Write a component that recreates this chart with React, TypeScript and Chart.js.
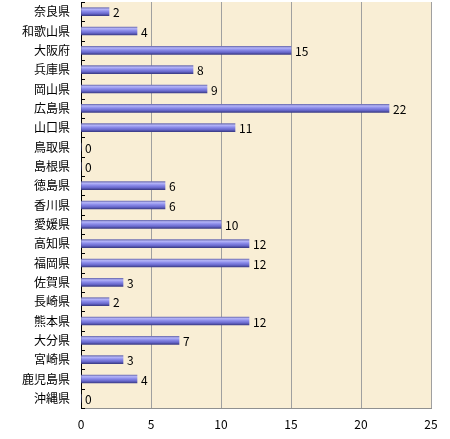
import React, { useEffect, useRef } from "react";
import { Chart, registerables } from "chart.js";

Chart.register(...registerables);

const categories = ["奈良県", "和歌山県", "大阪府", "兵庫県", "岡山県", "広島県", "山口県", "鳥取県", "島根県", "徳島県", "香川県", "愛媛県", "高知県", "福岡県", "佐賀県", "長崎県", "熊本県", "大分県", "宮崎県", "鹿児島県", "沖縄県"];
const values = [2, 4, 15, 8, 9, 22, 11, 0, 0, 6, 6, 10, 12, 12, 3, 2, 12, 7, 3, 4, 0];
const xTicks = [0, 5, 10, 15, 20, 25];

const FONT = "'Noto Sans CJK JP', 'DejaVu Sans', sans-serif";
const BAR_H = 8;

const bgPlugin = {
  id: "bgPlugin",
  beforeDraw(chart: any) {
    const { ctx, chartArea: a } = chart;
    ctx.save();
    ctx.fillStyle = "#f9eed5";
    ctx.fillRect(a.left, a.top, a.right - a.left, a.bottom - a.top);
    ctx.restore();
  },
};

const barFill = (c: any) => {
  if (c.type !== "data" || !c.chart.scales || !c.chart.scales.y) return "#8080e0";
  const y = c.chart.scales.y.getPixelForValue(c.dataIndex);
  if (!Number.isFinite(y)) return "#8080e0";
  const h = BAR_H / 2;
  const g = c.chart.ctx.createLinearGradient(0, y - h, 0, y + h);
  g.addColorStop(0, "#7070b4");
  g.addColorStop(0.2, "#b4b4f8");
  g.addColorStop(0.45, "#8c8cea");
  g.addColorStop(0.75, "#6868cc");
  g.addColorStop(1, "#3c3c88");
  return g;
};

const extras = {
  id: "extras",
  afterDatasetsDraw(chart: any) {
    const { ctx, chartArea: a } = chart;
    const meta = chart.getDatasetMeta(0);
    const ys = chart.scales.y;
    ctx.save();
    ctx.strokeStyle = "#000";
    ctx.lineWidth = 1;
    const n = categories.length;
    const step = (a.bottom - a.top) / n;
    for (let i = 0; i <= n; i++) {
      const yy = Math.round(i < n ? ys.getPixelForValue(i) - step / 2 : ys.getPixelForValue(n - 1) + step / 2) + 0.5;
      ctx.beginPath();
      ctx.moveTo(a.left, yy);
      ctx.lineTo(a.left + 4, yy);
      ctx.stroke();
    }
    ctx.fillStyle = "#000";
    ctx.font = `12px ${FONT}`;
    ctx.textAlign = "left";
    ctx.textBaseline = "middle";
    meta.data.forEach((bar: any, i: number) => {
      ctx.fillText(String(values[i]), bar.x + 4, bar.y + 1);
    });
    ctx.restore();
  },
};

export default function App() {
  const ref = useRef<HTMLCanvasElement>(null);
  useEffect(() => {
    document.body.style.margin = "0";
    const chart = new Chart(ref.current!, {
      type: "bar",
      data: {
        labels: categories,
        datasets: [
          {
            data: values,
            backgroundColor: barFill,
            borderWidth: 0,
            barThickness: BAR_H,
          },
        ],
      },
      options: {
        indexAxis: "y",
        animation: false,
        responsive: false,
        maintainAspectRatio: false,
        layout: { padding: { left: 0, top: 2, right: 19, bottom: 0 } },
        plugins: { legend: { display: false }, tooltip: { enabled: false } },
        scales: {
          x: {
            min: 0,
            max: 25,
            afterBuildTicks: (s: any) => {
              s.ticks = xTicks.map((v) => ({ value: v }));
            },
            afterFit: (s: any) => {
              s.height = 31;
              s.paddingLeft = 0;
              s.paddingRight = 0;
            },
            grid: {
              color: (c: any) => (c.tick && c.tick.value === 0 ? "rgba(0,0,0,0)" : "#a0a0a0"),
              drawTicks: false,
            },
            border: { display: true, color: "#909090" },
            ticks: { color: "#000", font: { family: FONT, size: 12 }, padding: 9 },
          },
          y: {
            afterFit: (s: any) => {
              s.width = 81;
              s.paddingTop = 0;
              s.paddingBottom = 0;
            },
            grid: { display: false, drawTicks: false },
            border: { display: true, color: "#000" },
            ticks: { color: "#000", font: { family: FONT, size: 12 }, padding: 11, autoSkip: false },
          },
        },
      },
      plugins: [bgPlugin, extras],
    });
    return () => chart.destroy();
  }, []);
  return <canvas ref={ref} width={450} height={439} style={{ display: "block", width: 450, height: 439 }} />;
}
